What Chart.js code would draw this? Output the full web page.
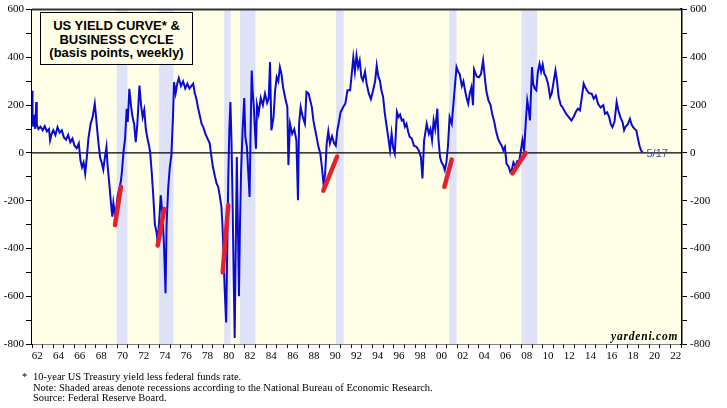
<!DOCTYPE html>
<html>
<head>
<meta charset="utf-8">
<script src="https://cdn.jsdelivr.net/npm/chart.js@4.4.1/dist/chart.umd.min.js"></script>
<style>
  body { margin: 0; background: #fff; }
  #wrap { position: relative; width: 727px; height: 408px; }
  #titleBox {
    position: absolute; left: 40px; top: 12px; width: 153px; height: 53px;
    box-sizing: border-box; border: 1.5px solid #000; background: #ffffe8;
    font: bold 13px "Liberation Sans", Arial, sans-serif; text-align: center;
    line-height: 13.5px; padding-top: 6px; color: #000;
  }
  #notes {
    position: absolute; left: 22px; top: 372px;
    font: 10.5px "Liberation Serif", "Times New Roman", serif; line-height: 10.5px; color: #000;
  }
  #notes span.star { display: inline-block; width: 11px; }
  #notes div.ind { padding-left: 11px; }
  #brand {
    position: absolute; left: 611px; top: 330px;
    font: italic bold 11.5px "Liberation Serif", "Times New Roman", serif; letter-spacing: 0.8px; color: #000;
  }
</style>
</head>
<body>
<div id="wrap">
  <canvas id="chart"></canvas>
  <div id="titleBox">US YIELD CURVE* &amp;<br>BUSINESS CYCLE<br>(basis points, weekly)</div>
  <div id="brand">yardeni.com</div>
  <div id="notes">
    <div><span class="star">*</span>10-year US Treasury yield less federal funds rate.</div>
    <div class="ind">Note: Shaded areas denote recessions according to the National Bureau of Economic Research.</div>
    <div class="ind">Source: Federal Reserve Board.</div>
  </div>
</div>
<script>
// yield curve, 10yr less fed funds (bp)
const dates60s = [
  1962.0, 1962.05, 1962.12, 1962.2, 1962.3, 1962.4, 1962.45, 1962.6, 1962.8, 1963.0,
  1963.2, 1963.4, 1963.6, 1963.7, 1963.85, 1964.0, 1964.2, 1964.4, 1964.6, 1964.8,
  1965.0, 1965.2, 1965.4, 1965.6, 1965.8, 1966.0, 1966.2, 1966.4, 1966.55, 1966.7,
  1966.85, 1967.0, 1967.15, 1967.3, 1967.5, 1967.7, 1967.9, 1968.0, 1968.1, 1968.25,
  1968.4, 1968.55, 1968.7, 1968.85, 1969.0, 1969.1, 1969.25, 1969.4, 1969.55, 1969.65,
  1969.8
]
const spread60s = [
  260, 150, 110, 160, 100, 213, 120, 100, 110, 95,
  112, 90, 100, 53, 80, 95, 75, 108, 85, 95,
  65, 55, 75, 45, 60, 30, 20, 40, -30, -60,
  -40, -86, -20, 60, 120, 150, 206, 160, 110, 40,
  -20, -40, -70, -20, 25, -50, -120, -200, -267, -210,
  -260
]

const dates70s = [
  1969.9, 1970.05, 1970.2, 1970.35, 1970.45, 1970.6, 1970.75, 1970.9, 1971.0, 1971.15,
  1971.3, 1971.45, 1971.6, 1971.75, 1971.9, 1972.1, 1972.25, 1972.4, 1972.55, 1972.7,
  1972.85, 1973.0, 1973.1, 1973.25, 1973.4, 1973.55, 1973.7, 1973.8, 1973.95, 1974.1,
  1974.25, 1974.4, 1974.55, 1974.65, 1974.8, 1974.95, 1975.1, 1975.25, 1975.35, 1975.5,
  1975.65, 1975.8, 1976.0, 1976.2, 1976.4, 1976.6, 1976.8, 1977.0, 1977.15, 1977.3,
  1977.45, 1977.6, 1977.8, 1977.95, 1978.1, 1978.3, 1978.5, 1978.7, 1978.85, 1979.0,
  1979.2, 1979.35, 1979.5, 1979.65, 1979.8, 1979.9
]
const spread70s = [
  -240, -180, -150, -120, -80, 4, 60, 185, 130, 268,
  200, 150, 120, 45, 120, 282, 200, 150, 180, 100,
  60, 30, 5, -80, -180, -300, -330, -370, -290, -177,
  -250, -380, -587, -300, -149, -60, -10, 150, 296, 250,
  290, 313, 280, 300, 270, 290, 270, 282, 290, 250,
  227, 190, 150, 120, 108, 80, 60, 40, -10, -58,
  -100, -128, -142, -180, -225, -300
]

const dates80s = [
  1980.0, 1980.1, 1980.25, 1980.35, 1980.45, 1980.55, 1980.65, 1980.75, 1980.85, 1980.95,
  1981.05, 1981.15, 1981.25, 1981.35, 1981.45, 1981.55, 1981.65, 1981.8, 1981.95, 1982.05,
  1982.2, 1982.35, 1982.45, 1982.55, 1982.65, 1982.75, 1982.85, 1982.95, 1983.05, 1983.15,
  1983.3, 1983.5, 1983.7, 1983.9, 1984.1, 1984.25, 1984.37, 1984.5, 1984.7, 1984.85,
  1985.0, 1985.15, 1985.3, 1985.45, 1985.6, 1985.8, 1986.0, 1986.1, 1986.25, 1986.45,
  1986.65, 1986.85, 1987.0, 1987.1, 1987.25, 1987.45, 1987.65, 1987.8, 1988.0, 1988.15,
  1988.3, 1988.45, 1988.6, 1988.75, 1988.9, 1989.1, 1989.25, 1989.4, 1989.55, 1989.7,
  1989.85
]
const spread80s = [
  -420, -560, -710, -400, -100, 100, 213, 50, -200, -500,
  -775, -400, -17, -300, -600, -300, -80, 100, 230, 67,
  25, -100, -184, 100, 345, 250, 192, 100, 18, 200,
  164, 230, 200, 248, 210, 230, 380, 95, 150, 260,
  317, 300, 359, 330, 275, 230, 192, -51, 122, 80,
  100, 53, -198, 120, 192, 150, 122, 255, 248, 220,
  192, 136, 100, 67, 30, -3, -60, -130, -90, 40,
  90
]

const dates90s = [
  1990.0, 1990.2, 1990.4, 1990.55, 1990.7, 1990.85, 1991.0, 1991.25, 1991.45, 1991.65,
  1991.9, 1992.05, 1992.2, 1992.35, 1992.5, 1992.65, 1992.8, 1992.95, 1993.1, 1993.3,
  1993.45, 1993.65, 1993.85, 1994.05, 1994.25, 1994.4, 1994.55, 1994.7, 1994.85, 1995.0,
  1995.15, 1995.3, 1995.5, 1995.65, 1995.8, 1995.95, 1996.1, 1996.3, 1996.45, 1996.6,
  1996.75, 1996.9, 1997.05, 1997.2, 1997.35, 1997.5, 1997.7, 1997.9, 1998.15, 1998.35,
  1998.55, 1998.7, 1998.85, 1999.1, 1999.3, 1999.45, 1999.6, 1999.75, 1999.9
]
const spread90s = [
  40, 70, 40, 30, 95, 130, 170, 192, 206, 262,
  262, 330, 400, 340, 408, 360, 387, 320, 303, 340,
  290, 250, 225, 260, 300, 366, 320, 303, 260, 234,
  170, 122, 60, 11, 81, 20, -3, 171, 150, 160,
  136, 140, 110, 122, 90, 67, 60, 30, 25, 10,
  -17, -107, 50, 122, 80, 100, 53, 136, 100
]

const dates00s = [
  2000.1, 2000.2, 2000.35, 2000.5, 2000.65, 2000.8, 2000.95, 2001.1, 2001.25, 2001.45,
  2001.6, 2001.75, 2001.9, 2002.05, 2002.2, 2002.4, 2002.55, 2002.7, 2002.85, 2003.0,
  2003.15, 2003.3, 2003.45, 2003.55, 2003.8, 2004.0, 2004.2, 2004.4, 2004.55, 2004.7,
  2004.9, 2005.1, 2005.25, 2005.45, 2005.6, 2005.8, 2006.0, 2006.15, 2006.3, 2006.45,
  2006.6, 2006.8, 2006.95, 2007.1, 2007.25, 2007.45, 2007.6, 2007.8, 2007.95, 2008.1,
  2008.25, 2008.4, 2008.55, 2008.7, 2008.8, 2008.9
]
const spread00s = [
  185, 60, -17, -40, -50, -72, -40, 30, 150, 122,
  200, 280, 359, 340, 331, 280, 300, 262, 230, 206,
  250, 275, 200, 350, 320, 317, 330, 387, 320, 260,
  220, 200, 164, 130, 95, 60, 40, 30, 11, 25,
  -45, -58, -79, -70, -40, -58, -35, -31, 10, 53,
  11, 120, 220, 178, 136, 250
]

const dates10s = [
  2009.0, 2009.1, 2009.25, 2009.4, 2009.55, 2009.7, 2009.85, 2010.0, 2010.15, 2010.3,
  2010.5, 2010.7, 2010.85, 2011.0, 2011.2, 2011.35, 2011.5, 2011.7, 2011.85, 2012.0,
  2012.2, 2012.45, 2012.7, 2012.9, 2013.1, 2013.3, 2013.5, 2013.7, 2013.85, 2014.0,
  2014.15, 2014.35, 2014.6, 2014.8, 2015.0, 2015.2, 2015.45, 2015.7, 2015.85, 2016.05,
  2016.25, 2016.4, 2016.55, 2016.75, 2016.95, 2017.1, 2017.3, 2017.5, 2017.65, 2017.8,
  2018.0, 2018.2, 2018.35, 2018.5, 2018.65, 2018.8, 2018.95, 2019.1, 2019.25, 2019.38
]
const spread10s = [
  359, 289, 270, 262, 340, 373, 340, 370, 331, 320,
  290, 234, 250, 290, 345, 300, 234, 200, 192, 180,
  164, 150, 136, 150, 170, 185, 178, 240, 290, 275,
  262, 250, 248, 227, 240, 206, 190, 200, 164, 170,
  150, 120, 108, 130, 213, 180, 150, 130, 95, 110,
  120, 143, 120, 108, 100, 95, 60, 30, 10, 2
]

// red lines: trough of the inversion up to the recession start
const redDates = [[1969.8, 1970.36], [1973.81, 1974.44], [1979.92, 1980.45], [1989.38, 1990.68], [2000.76, 2001.45], [2007.15, 2008.4]]
const redValues = [[-302, -142], [-388, -235], [-500, -218], [-158, -15], [-142, -28], [-86, 0]]

// NBER recessions as shaded on the chart
const recessionStart = [1969.96, 1973.94, 1980.06, 1981.55, 1990.57, 2001.22, 2008.0]
const recessionEnd = [1970.97, 1975.3, 1980.68, 1983.0, 1991.3, 2001.9, 2009.48]

const lastLabel = "5/17"
const yMin = -800, yMax = 600
const firstYear = 1962, lastYear = 2023

const dates = [...dates60s, ...dates70s, ...dates80s, ...dates90s, ...dates00s, ...dates10s]
const spread = [...spread60s, ...spread70s, ...spread80s, ...spread90s, ...spread00s, ...spread10s]

const curvePoints = dates.map((d, i) => ({ x: d, y: spread[i] }))

const redSets = redDates.map((d, i) => ({
  data: [{ x: d[0], y: redValues[i][0] }, { x: d[1], y: redValues[i][1] }],
  borderColor: "#e8202c",
  borderWidth: 4.5,
  borderCapStyle: "round",
  pointRadius: 0,
  order: 0,
}))

// background, recession bands, zero line, frame, end label
const decor = {
  id: "decor",
  beforeDatasetsDraw(chart) {
    const { ctx, chartArea: a, scales } = chart
    ctx.save()
    ctx.fillStyle = "#ffffe8"
    ctx.fillRect(a.left, a.top, a.right - a.left, a.bottom - a.top)
    ctx.fillStyle = "#e0e3f8"
    recessionStart.forEach((s, i) => {
      const x1 = scales.x.getPixelForValue(s)
      const x2 = scales.x.getPixelForValue(recessionEnd[i])
      ctx.fillRect(x1, a.top, x2 - x1, a.bottom - a.top)
    })
    const y0 = scales.y.getPixelForValue(0)
    ctx.strokeStyle = "#000"
    ctx.lineWidth = 1.2
    ctx.beginPath()
    ctx.moveTo(a.left, y0)
    ctx.lineTo(a.right, y0)
    ctx.stroke()
    ctx.restore()
  },
  afterDraw(chart) {
    const { ctx, chartArea: a, scales } = chart
    ctx.save()
    ctx.strokeStyle = "#333"
    ctx.lineWidth = 2
    ctx.beginPath()
    ctx.moveTo(a.left, a.top)
    ctx.lineTo(a.right, a.top)
    ctx.stroke()
    const px = scales.x.getPixelForValue(dates[dates.length - 1])
    const py = scales.y.getPixelForValue(0)
    ctx.fillStyle = "#4a4aa8"
    ctx.font = "11px 'Liberation Sans', Arial, sans-serif"
    ctx.textBaseline = "middle"
    ctx.fillText(lastLabel, px + 4, py + 1)
    ctx.restore()
  }
}

const tickFont = { family: "Liberation Serif", size: 11 }

const yAxis = (pos, width, border) => ({
  position: pos,
  min: yMin,
  max: yMax,
  afterFit: s => { s.width = width },
  ticks: {
    stepSize: 100,
    font: tickFont,
    color: "#000",
    padding: pos === "left" ? 2 : 3,
    callback: v => (v % 200 === 0 ? v : ""),
  },
  grid: { drawOnChartArea: false, drawTicks: true, tickLength: 6, color: "#000", lineWidth: 1 },
  border: { display: true, color: "#000", width: border },
})

new Chart(document.querySelector("#chart"), {
  type: "line",
  data: {
    datasets: [
      {
        label: "Yield curve",
        data: curvePoints,
        borderColor: "#0a0ad2",
        borderWidth: 2,
        pointRadius: 0,
        tension: 0,
        order: 1,
      },
      ...redSets,
    ]
  },
  options: {
    animation: false,
    responsive: true,
    maintainAspectRatio: false,
    layout: { padding: { top: 9, left: 0, right: 0, bottom: 0 } },
    plugins: { legend: { display: false }, tooltip: { enabled: false } },
    scales: {
      x: {
        type: "linear",
        min: firstYear,
        max: lastYear,
        afterFit: s => { s.height = 64 },
        afterBuildTicks: s => {
          const t = []
          for (let yr = firstYear; yr <= lastYear; yr++) t.push({ value: yr })
          s.ticks = t
        },
        ticks: {
          autoSkip: false,
          maxRotation: 0,
          font: tickFont,
          color: "#000",
          padding: 2,
          labelOffset: 5.3,
          callback: v => (v % 2 === 0 && v < lastYear ? String(v).slice(2) : ""),
        },
        grid: { drawOnChartArea: false, drawTicks: true, tickLength: 4, color: "#000", lineWidth: 1 },
        border: { display: true, color: "#000", width: 1.5 },
      },
      y: yAxis("left", 32, 2),
      y2: yAxis("right", 46, 2.5),
    }
  },
  plugins: [decor]
})
</script>
</body>
</html>
